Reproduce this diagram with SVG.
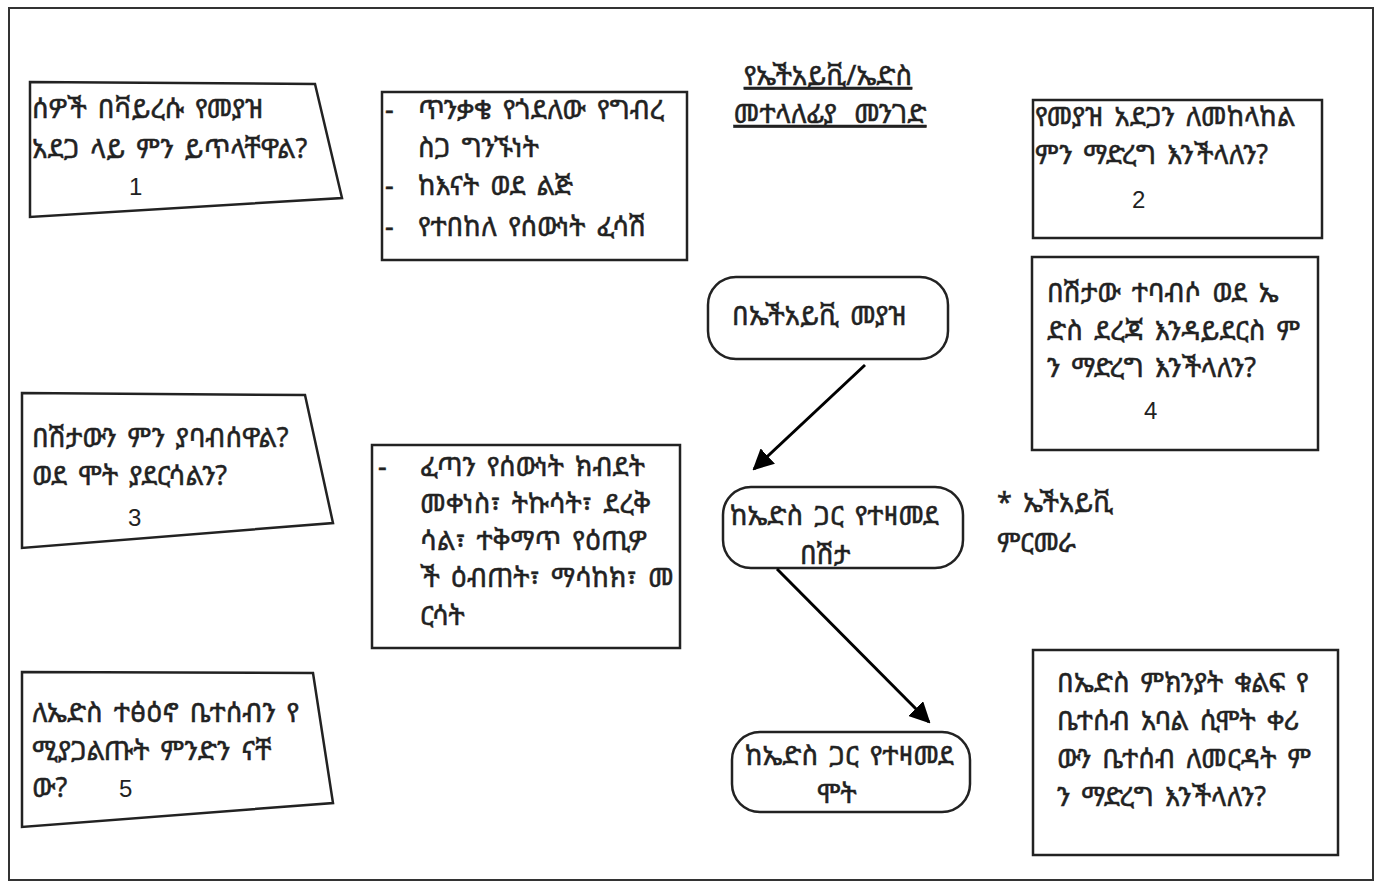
<svg xmlns="http://www.w3.org/2000/svg" width="1375" height="885" viewBox="0 0 1375 885">
<style>
  .t { font-family: "Noto Sans Ethiopic", "Abyssinica SIL", "DejaVu Sans", "Noto Sans", sans-serif; font-size: 27px; fill: #222; stroke: #222; stroke-width: 0.5; word-spacing: 4px; }
  .n { font-family: "Liberation Sans", Arial, sans-serif; font-size: 24px; fill: #222; }
  .box { fill: #fff; stroke: #222; stroke-width: 2.5; }
  .conn { stroke: #000; stroke-width: 3; fill: none; marker-end: url(#ah); }
</style>
<defs>
  <marker id="ah" viewBox="0 0 10 10" refX="9" refY="5" markerWidth="7" markerHeight="7" orient="auto" markerUnits="strokeWidth">
    <path d="M0,0 L10,5 L0,10 z" fill="#000"/>
  </marker>
</defs>
<rect x="0" y="0" width="1375" height="885" fill="#fff"/>
<rect x="9" y="8" width="1364" height="872" fill="none" stroke="#333" stroke-width="2"/>

<g id="title">
  <text class="t" x="828" y="85" text-anchor="middle" text-decoration="underline" style="word-spacing:8px">የኤችአይቪ/ኤድስ</text>
  <text class="t" x="830" y="123" text-anchor="middle" text-decoration="underline" style="word-spacing:10px">መተላለፊያ  መንገድ</text>
</g>

<g id="q1">
  <polygon class="box" points="30,82 315,84 342,198 30,217"/>
  <text class="t" x="32" y="118">ሰዎች በቫይረሱ የመያዝ</text>
  <text class="t" x="32" y="158">አደጋ ላይ ምን ይጥላቸዋል?</text>
  <text class="n" x="129" y="195">1</text>
</g>

<g id="routes">
  <rect class="box" x="382" y="92" width="305" height="168"/>
  <text class="t" x="385" y="119">-</text>
  <text class="t" x="418" y="119">ጥንቃቄ የጎደለው የግብረ</text>
  <text class="t" x="418" y="157">ስጋ ግንኙነት</text>
  <text class="t" x="385" y="195">-</text>
  <text class="t" x="418" y="195">ከእናት ወደ ልጅ</text>
  <text class="t" x="385" y="236">-</text>
  <text class="t" x="418" y="236">የተበከለ የሰውነት ፈሳሽ</text>
</g>

<g id="q2">
  <rect class="box" x="1033" y="100" width="289" height="138"/>
  <text class="t" x="1035" y="126">የመያዝ አደጋን ለመከላከል</text>
  <text class="t" x="1035" y="164">ምን ማድረግ እንችላለን?</text>
  <text class="n" x="1132" y="208">2</text>
</g>

<g id="q4">
  <rect class="box" x="1032" y="257" width="286" height="193"/>
  <text class="t" x="1047" y="302">በሽታው ተባብሶ ወደ ኤ</text>
  <text class="t" x="1047" y="340">ድስ ደረጃ እንዳይደርስ ም</text>
  <text class="t" x="1047" y="377">ን ማድረግ እንችላለን?</text>
  <text class="n" x="1144" y="419">4</text>
</g>

<g id="q3">
  <polygon class="box" points="22,393 305,395 333,523 22,548"/>
  <text class="t" x="32" y="447">በሽታውን ምን ያባብሰዋል?</text>
  <text class="t" x="32" y="485">ወደ ሞት ያደርሳልን?</text>
  <text class="n" x="128" y="526">3</text>
</g>

<g id="symptoms">
  <rect class="box" x="372" y="445" width="308" height="203"/>
  <text class="t" x="378" y="476">-</text>
  <text class="t" x="420" y="476">ፈጣን የሰውነት ክብደት</text>
  <text class="t" x="420" y="513">መቀነስ፣ ትኩሳት፣ ደረቅ</text>
  <text class="t" x="420" y="550">ሳል፣ ተቅማጥ የዕጢዎ</text>
  <text class="t" x="420" y="587">ች ዕብጠት፣ ማሳከክ፣ መ</text>
  <text class="t" x="420" y="625">ርሳት</text>
</g>

<g id="hiv">
  <rect class="box" x="708" y="277" width="240" height="82" rx="28" ry="28"/>
  <text class="t" x="732" y="325">በኤችአይቪ መያዝ</text>
</g>

<g id="aids">
  <rect class="box" x="723" y="487" width="240" height="81" rx="28" ry="28"/>
  <text class="t" x="730" y="525">ከኤድስ  ጋር  የተዛመደ</text>
  <text class="t" x="800" y="564">በሽታ</text>
</g>

<g id="test">
  <text class="t" x="997" y="512">* ኤችአይቪ</text>
  <text class="t" x="997" y="552">ምርመራ</text>
</g>

<g id="death">
  <rect class="box" x="732" y="732" width="238" height="80" rx="28" ry="28"/>
  <text class="t" x="745" y="765">ከኤድስ  ጋር  የተዛመደ</text>
  <text class="t" x="817" y="803">ሞት</text>
</g>

<g id="q6">
  <rect class="box" x="1033" y="650" width="305" height="205"/>
  <text class="t" x="1057" y="692">በኤድስ ምክንያት ቁልፍ የ</text>
  <text class="t" x="1057" y="730">ቤተሰብ አባል ሲሞት ቀሪ</text>
  <text class="t" x="1057" y="768">ውን ቤተሰብ ለመርዳት ም</text>
  <text class="t" x="1057" y="806">ን ማድረግ እንችላለን?</text>
</g>

<g id="q5">
  <polygon class="box" points="22,672 313,673 333,803 22,827"/>
  <text class="t" x="32" y="722">ለኤድስ ተፅዕኖ ቤተሰብን የ</text>
  <text class="t" x="32" y="760">ሚያጋልጡት ምንድን ናቸ</text>
  <text class="t" x="32" y="797">ው?</text>
  <text class="n" x="119" y="797">5</text>
</g>

<g id="connectors">
  <line class="conn" x1="865" y1="365" x2="754" y2="469"/>
  <line class="conn" x1="777" y1="569" x2="929" y2="722"/>
</g>
</svg>
